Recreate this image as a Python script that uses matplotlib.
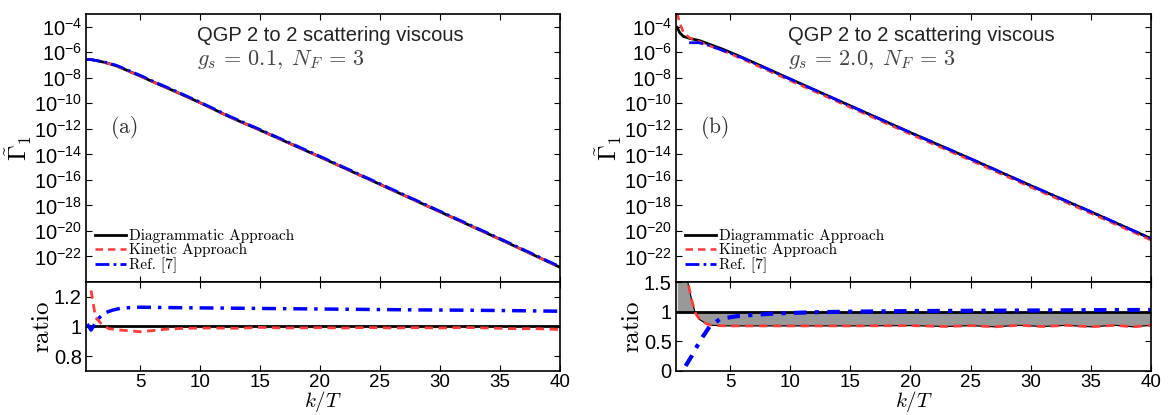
import numpy as np
import matplotlib
matplotlib.use("Agg")
import matplotlib.pyplot as plt
from matplotlib.ticker import FixedLocator, NullLocator, LogFormatterSciNotation

plt.rcParams['font.family'] = ['Liberation Sans', 'DejaVu Sans']
plt.rcParams['mathtext.fontset'] = 'cm'
plt.rcParams['axes.unicode_minus'] = True

# ---- panel (a): g_s = 0.1, log10 of Gamma_1 ----
ka = [0.55, 1.0, 2.0, 3.0, 4.0, 5.0, 6.0, 8.0, 10.0, 12.55, 15.0, 20.0, 25.0, 30.0, 35.0, 40.0]
diag_a = [-6.55, -6.58, -6.78, -7.05, -7.45, -7.85, -8.28, -9.1, -9.95, -11.1, -12.1, -14.2, -16.35, -18.5, -20.65, -22.85]
kin_a = [None, -6.57, -6.79, -7.06, -7.46, -7.87, -8.29, -9.11, -9.96, -11.11, -12.11, -14.21, -16.36, -18.51, -20.66, -22.86]
ref_a = [-6.55, -6.59, -6.75, -7.01, -7.4, -7.8, -8.23, -9.05, -9.9, -11.05, -12.05, -14.15, -16.3, -18.45, -20.6, -22.8]

# ---- panel (b): g_s = 2.0 ----
kb = [0.6, 0.8, 1.1, 1.6, 2.5, 3.5, 4.5, 6.0, 8.0, 10.0, 15.0, 20.0, 25.0, 30.0, 35.0, 40.0]
diag_b = [-4.05, -4.45, -4.75, -4.9, -5.1, -5.45, -5.8, -6.4, -7.25, -8.1, -10.2, -12.3, -14.35, -16.45, -18.5, -20.6]
kin_b = [-2.9, -3.7, -4.4, -4.85, -5.2, -5.57, -5.92, -6.52, -7.37, -8.22, -10.32, -12.42, -14.47, -16.57, -18.62, -20.72]
kb_ref = [1.6, 2.4, 3.2, 4.0, 5.0, 6.0, 8.0, 10.0, 15.0, 20.0, 25.0, 30.0, 35.0, 40.0]
ref_b = [-5.25, -5.25, -5.45, -5.72, -6.06, -6.43, -7.26, -8.1, -10.2, -12.29, -14.34, -16.44, -18.49, -20.59]

# ---- ratio panel (a) ----
rk_kin_a = [0.92, 1.3, 1.8, 2.4, 3.5, 5, 6, 7.3, 9, 11, 13, 15, 17, 20, 22, 24, 26, 28, 30, 32, 34, 36, 38, 40]
r_kin_a = [1.243, 1.06, 1.017, 0.985, 0.975, 0.965, 0.972, 0.983, 0.988, 0.99, 0.988, 0.994, 0.99, 0.992,
           0.99, 0.993, 0.99, 0.992, 0.99, 0.993, 0.99, 0.985, 0.985, 0.98]
rk_ref_a = [0.6, 0.92, 1.5, 2.0, 2.7, 3.5, 5, 8, 12, 16, 20, 24, 28, 32, 36, 40]
r_ref_a = [1.017, 0.976, 1.05, 1.09, 1.11, 1.125, 1.13, 1.127, 1.124, 1.121, 1.118, 1.115, 1.112, 1.11, 1.107, 1.103]

# ---- ratio panel (b) ----
rk_b = [0.6, 1.0, 1.5, 1.8, 2.1, 2.5, 3.0, 3.5, 4, 5, 7, 10, 15, 20, 23, 25, 27, 29, 31, 33, 35, 37, 38.5, 40]
r_band_b = [2.5, 1.9, 1.48, 1.2, 0.98, 0.86, 0.8, 0.77, 0.765, 0.76, 0.76, 0.76, 0.76, 0.765, 0.75, 0.765,
            0.745, 0.77, 0.75, 0.77, 0.745, 0.77, 0.745, 0.77]
rk_ref_b = [1.3, 1.8, 2.2, 2.7, 3.3, 4.2, 5.8, 8.8, 11.9, 15, 20, 25, 30, 35, 40]
r_ref_b = [0.085, 0.25, 0.4, 0.57, 0.75, 0.88, 0.93, 0.97, 0.99, 1.0, 1.01, 1.015, 1.02, 1.025, 1.03]

red = '#ff3b3b'
blue = '#0000ff'
W, H = 1169, 415
fig = plt.figure(figsize=(W / 100, H / 100), dpi=100)


def box(x0, y0, x1, y1):
    return [x0 / W, 1 - y1 / H, (x1 - x0) / W, (y1 - y0) / H]


def style(ax):
    ax.tick_params(direction='in', top=True, right=True, labelsize=14.5, length=4, width=0.8, pad=3)
    for s in ax.spines.values():
        s.set_linewidth(1.2)


def top_panel(x0, x1, k, d, kin, kref, ref, title2, tag):
    ax = fig.add_axes(box(x0, 14, x1, 282))
    ax.set_yscale('log')
    ax.plot(k, [10 ** v for v in d], color='k', lw=2, label='Diagrammatic Approach')
    kk = [a for a, b in zip(k, kin) if b is not None]
    kv = [10 ** b for b in kin if b is not None]
    ax.plot(kk, kv, color=red, lw=1.8, ls=(0, (3, 2)), label='Kinetic Approach')
    ax.plot(kref, [10 ** v for v in ref], color=blue, lw=2, ls=(0, (5, 1.5, 1, 1.5)), label='Ref. [7]')
    ax.set_xlim(0.5, 40)
    ax.set_ylim(1e-24, 1e-3)
    ax.yaxis.set_major_locator(FixedLocator([10.0 ** e for e in range(-22, -3, 2)]))
    ax.yaxis.set_major_formatter(LogFormatterSciNotation())
    ax.yaxis.set_minor_locator(NullLocator())
    ax.set_xticks([5, 10, 15, 20, 25, 30, 35, 40])
    ax.set_xticklabels([])
    style(ax)
    ax.set_ylabel(r'$\tilde{\Gamma}_1$', fontsize=18, labelpad=0)
    ax.text(0.235, 0.9, 'QGP 2 to 2 scattering viscous', transform=ax.transAxes, fontsize=14.5,
            color='#222222')
    ax.text(0.235, 0.81, title2, transform=ax.transAxes, fontsize=16, color='#444444')
    ax.text(0.05, 0.555, tag, transform=ax.transAxes, fontsize=15.5, color='#333333')
    ax.legend(loc='lower left', frameon=False, prop={'family': 'cmr10', 'size': 11},
              handlelength=2.0, handletextpad=0.2, labelspacing=0.0, borderaxespad=0.5,
              borderpad=0.1)
    return ax


def ratio_axes(x0, x1):
    ax = fig.add_axes(box(x0, 282, x1, 371))
    ax.set_xlim(0.5, 40)
    ax.set_xticks([5, 10, 15, 20, 25, 30, 35, 40])
    style(ax)
    ax.tick_params(axis='x', pad=2, labelsize=13.5)
    ax.set_xlabel(r'$k/T$', fontsize=15, labelpad=-1)
    ax.set_ylabel(r'$\mathrm{ratio}$', fontsize=18, labelpad=0)
    return ax


top_panel(86, 560, ka, diag_a, kin_a, ka, ref_a, r'$g_s\,=\,0.1,\;N_F\,=\,3$', r'$\mathrm{(a)}$')
top_panel(676, 1151, kb, diag_b, kin_b, kb_ref, ref_b, r'$g_s\,=\,2.0,\;N_F\,=\,3$', r'$\mathrm{(b)}$')

# ratio (a)
ra = ratio_axes(86, 560)
ra.axhline(1, color='k', lw=2)
ra.plot(rk_kin_a, r_kin_a, color=red, lw=2, ls=(0, (3, 2)))
ra.plot(rk_ref_a, r_ref_a, color=blue, lw=2.5, ls=(0, (4, 2, 1, 2)))
ra.set_ylim(0.7, 1.3)
ra.set_yticks([0.8, 1.0, 1.2])
ra.set_yticklabels(['0.8', '1', '1.2'])

# ratio (b)
rb = ratio_axes(676, 1151)
rb.fill_between(rk_b, 1, r_band_b, color='#999999', lw=0)
rb.plot(rk_b, r_band_b, color='k', lw=0.8)
rb.axhline(1, color='k', lw=2)
rk_kin_b = [x for x in rk_b if x >= 1.0]
r_kin_b = [y for x, y in zip(rk_b, r_band_b) if x >= 1.0]
rb.plot(rk_kin_b, r_kin_b, color=red, lw=2, ls=(0, (3, 2)))
rb.plot(rk_ref_b, r_ref_b, color=blue, lw=3, ls=(0, (3, 2, 1, 2)))
rb.set_ylim(0, 1.5)
rb.set_yticks([0, 0.5, 1.0, 1.5])
rb.set_yticklabels(['0', '0.5', '1', '1.5'])

fig.savefig('out.png', dpi=100)
